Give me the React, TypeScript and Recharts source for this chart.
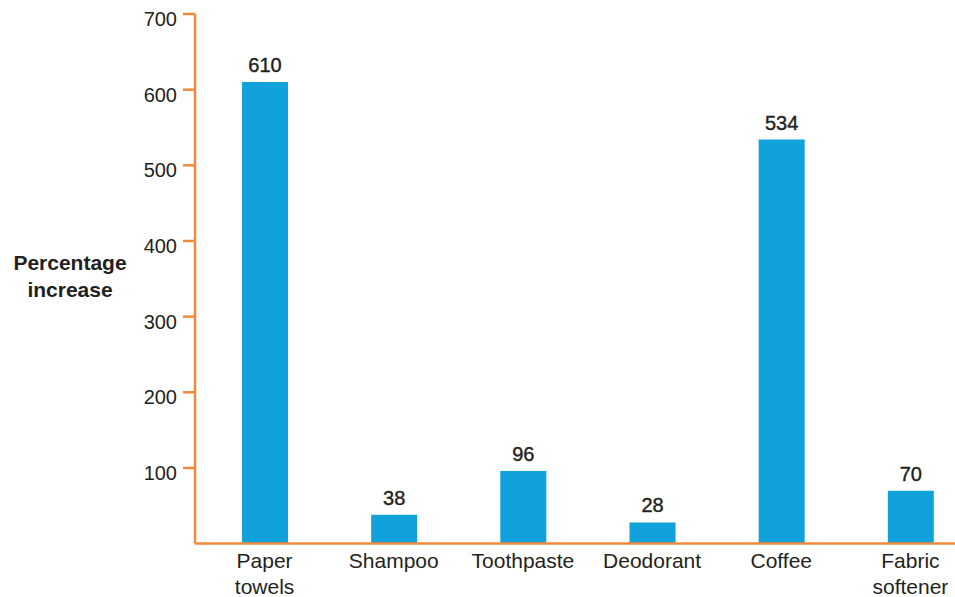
import { BarChart, Bar, XAxis, YAxis, LabelList } from "recharts";

// Prozentuale Zunahme je Produkt
const categories = ["Paper towels", "Shampoo", "Toothpaste", "Deodorant", "Coffee", "Fabric softener"];
const increases = [610, 38, 96, 28, 534, 70];
const yTicks = [100, 200, 300, 400, 500, 600, 700];

const data = categories.map((name, i) => ({ name, value: increases[i] }));

const ORANGE = "#f38a3b";
const BLUE = "#11a2dc";
const INK = "#231f20";
const FONT = "'Liberation Sans', Arial, Helvetica, sans-serif";

const CategoryTick = (props: any) => {
  const { x, y, payload } = props;
  const lines = String(payload.value).split(" ");
  return (
    <text x={x} y={y} textAnchor="middle" fontSize={21} fill={INK} fontFamily={FONT}>
      {lines.map((l, i) => (
        <tspan key={i} x={x} dy={i === 0 ? 24 : 26}>
          {l}
        </tspan>
      ))}
    </text>
  );
};

const YLabel = () => (
  <text x={70} y={270} textAnchor="middle" fontSize={21} fontWeight="bold" fill={INK} fontFamily={FONT}>
    <tspan x={70} dy={0}>Percentage</tspan>
    <tspan x={70} dy={27}>increase</tspan>
  </text>
);

export default function App() {
  return (
    <div style={{ position: "absolute", left: 0, top: 0, width: 955, height: 597, overflow: "hidden", background: "#fff" }}>
      <BarChart
        width={980}
        height={597}
        data={data}
        margin={{ top: 14, right: 5, bottom: 23.4, left: 0 }}
        style={{ overflow: "visible" }}
      >
        <XAxis
          dataKey="name"
          height={30}
          padding={{ left: 5, right: 0 }}
          axisLine={{ stroke: ORANGE, strokeWidth: 2.5 }}
          tickLine={false}
          tickSize={0}
          tickMargin={0}
          interval={0}
          tick={<CategoryTick />}
        />
        <YAxis
          width={195}
          domain={[0, 700]}
          ticks={yTicks}
          axisLine={{ stroke: ORANGE, strokeWidth: 2.5 }}
          tickLine={{ stroke: ORANGE, strokeWidth: 2.5 }}
          tickSize={12}
          tickMargin={6}
          tick={{ fontSize: 20, fill: INK, fontFamily: FONT, dy: 5 }}
          label={<YLabel />}
        />
        <Bar dataKey="value" fill={BLUE} barSize={46} isAnimationActive={false}>
          <LabelList
            dataKey="value"
            position="top"
            offset={10}
            fontSize={20}
            fill={INK}
            stroke={INK}
            strokeWidth={0.4}
            fontFamily={FONT}
          />
        </Bar>
      </BarChart>
    </div>
  );
}
